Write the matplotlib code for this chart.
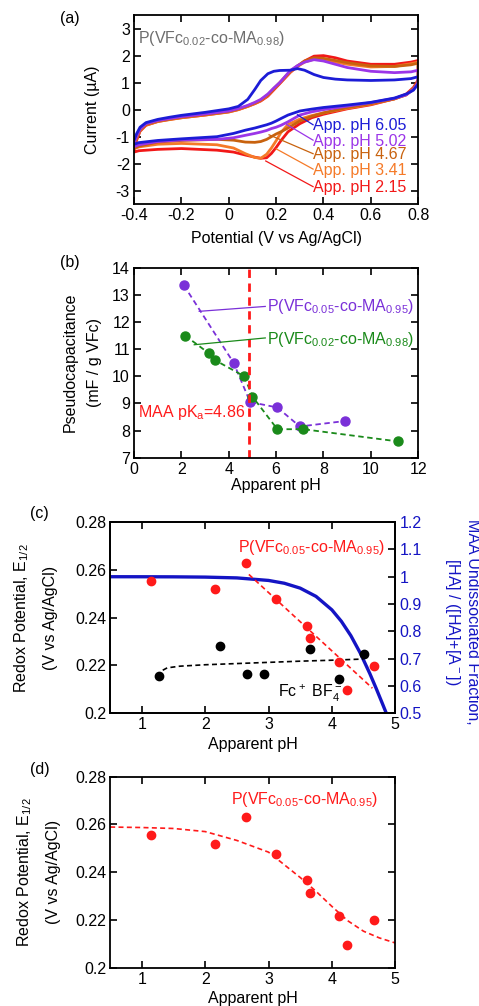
import matplotlib
matplotlib.use("Agg")
import matplotlib.pyplot as plt
import numpy as np

plt.rcParams["font.family"] = ["Liberation Sans", "DejaVu Sans"]
plt.rcParams["mathtext.fontset"] = "custom"
plt.rcParams["mathtext.rm"] = "Liberation Sans"
plt.rcParams["mathtext.default"] = "regular"
plt.rcParams["axes.unicode_minus"] = False

FS = 11.5

# ---- (a) cyclic voltammograms, P(VFc0.02-co-MA0.98) ----
cv_labels = ["App. pH 6.05", "App. pH 5.02", "App. pH 4.67", "App. pH 3.41", "App. pH 2.15"]
cv_colors = ["#1c1cd6", "#9b35e8", "#c8620e", "#f57a28", "#f21818"]

v_fwd = [-0.4, -0.39, -0.375, -0.35, -0.3, -0.25, -0.2, -0.1, 0.0, 0.04, 0.08, 0.11, 0.135,
         0.165, 0.19, 0.215, 0.26, 0.29, 0.32, 0.36, 0.4, 0.45, 0.5, 0.6, 0.7, 0.77, 0.8]
v_rev = [0.8, 0.78, 0.75, 0.7, 0.6, 0.5, 0.4, 0.35, 0.3, 0.25, 0.22, 0.2, 0.18, 0.16, 0.135,
         0.11, 0.07, 0.02, -0.05, -0.2, -0.3, -0.38, -0.4]

i_fwd_605 = [-1.12, -0.9, -0.65, -0.48, -0.36, -0.28, -0.21, -0.1, 0.03, 0.12, 0.38, 0.75, 1.08,
             1.33, 1.42, 1.45, 1.46, 1.52, 1.46, 1.3, 1.19, 1.13, 1.1, 1.08, 1.1, 1.15, 1.22]
i_fwd_502 = [-1.25, -1.0, -0.72, -0.52, -0.4, -0.33, -0.26, -0.16, -0.05, 0.04, 0.16, 0.27, 0.38,
             0.58, 0.8, 1.0, 1.45, 1.63, 1.76, 1.85, 1.8, 1.68, 1.56, 1.42, 1.37, 1.4, 1.46]
i_fwd_467 = [-1.3, -1.05, -0.75, -0.55, -0.42, -0.35, -0.28, -0.18, -0.07, 0.02, 0.14, 0.25, 0.36,
             0.55, 0.78, 1.0, 1.42, 1.62, 1.8, 1.92, 1.9, 1.82, 1.74, 1.62, 1.6, 1.66, 1.72]
i_fwd_341 = [-1.35, -1.08, -0.78, -0.57, -0.44, -0.37, -0.3, -0.2, -0.09, 0.0, 0.12, 0.23, 0.34,
             0.53, 0.76, 0.98, 1.4, 1.6, 1.76, 1.87, 1.84, 1.76, 1.68, 1.58, 1.6, 1.7, 1.76]
i_fwd_215 = [-1.5, -1.15, -0.8, -0.58, -0.44, -0.36, -0.3, -0.2, -0.08, 0.0, 0.12, 0.22, 0.32,
             0.5, 0.73, 0.96, 1.38, 1.6, 1.8, 1.98, 2.0, 1.92, 1.8, 1.68, 1.68, 1.76, 1.82]

i_rev_605 = [0.95, 0.72, 0.58, 0.43, 0.27, 0.17, 0.08, 0.02, -0.05, -0.2, -0.33, -0.42, -0.5,
             -0.56, -0.62, -0.68, -0.76, -0.88, -1.0, -1.08, -1.14, -1.22, -1.28]
i_rev_502 = [1.0, 0.75, 0.55, 0.42, 0.26, 0.13, 0.0, -0.08, -0.2, -0.45, -0.58, -0.65, -0.7,
             -0.77, -0.83, -0.88, -0.95, -1.04, -1.1, -1.12, -1.18, -1.3, -1.37]
i_rev_467 = [1.05, 0.78, 0.55, 0.4, 0.22, 0.08, -0.12, -0.25, -0.42, -0.68, -0.82, -0.9, -1.0,
             -1.1, -1.18, -1.21, -1.2, -1.13, -1.1, -1.14, -1.2, -1.35, -1.42]
i_rev_341 = [1.05, 0.78, 0.55, 0.4, 0.2, 0.05, -0.12, -0.22, -0.35, -0.55, -0.85, -1.15, -1.42,
             -1.65, -1.8, -1.77, -1.63, -1.42, -1.3, -1.25, -1.28, -1.38, -1.45]
i_rev_215 = [1.1, 0.82, 0.58, 0.4, 0.18, 0.03, -0.17, -0.3, -0.52, -0.82, -1.15, -1.4, -1.62,
             -1.78, -1.8, -1.76, -1.68, -1.57, -1.5, -1.44, -1.47, -1.52, -1.57]

i_fwd = [i_fwd_605, i_fwd_502, i_fwd_467, i_fwd_341, i_fwd_215]
i_rev = [i_rev_605, i_rev_502, i_rev_467, i_rev_341, i_rev_215]

# label leader lines: (text end) -> (curve point)
lead_start = [(0.356, -0.56), (0.356, -1.13), (0.356, -1.63), (0.356, -2.2), (0.356, -2.85)]
lead_end = [(0.29, -0.19), (0.245, -0.55), (0.17, -0.93), (0.20, -1.45), (0.156, -1.9)]
label_y = [-0.6, -1.17, -1.66, -2.24, -2.88]

# ---- (b) pseudocapacitance vs pH ----
ph_05 = [2.1, 4.2, 4.9, 6.05, 7.0, 8.9]
cap_05 = [13.35, 10.5, 9.05, 8.85, 8.15, 8.35]
ph_02 = [2.15, 3.15, 3.4, 4.65, 5.0, 6.05, 7.15, 11.15]
cap_02 = [11.5, 10.85, 10.6, 10.0, 9.25, 8.05, 8.05, 7.6]
pka = 4.86

# ---- (c)/(d) redox potential vs pH ----
red_ph = [1.14, 2.16, 2.64, 3.12, 3.61, 3.65, 4.11, 4.24, 4.67]
red_e = [0.2554, 0.2519, 0.2630, 0.2477, 0.2367, 0.2313, 0.2216, 0.2097, 0.2199]
fc_ph = [1.27, 2.23, 2.66, 2.93, 3.66, 4.11, 4.50]
fc_e = [0.2156, 0.2281, 0.2166, 0.2166, 0.2268, 0.2145, 0.2250]
fc_fit_ph = [1.33, 1.4, 1.6, 2.0, 2.5, 3.0, 3.5, 4.0, 4.5]
fc_fit_e = [0.2180, 0.2190, 0.2197, 0.2203, 0.2208, 0.2213, 0.2218, 0.2222, 0.2227]
red_line_ph = [2.69, 4.64]
red_line_e = [0.2581, 0.2105]
frac_ph = [0.5, 1.0, 1.5, 2.0, 2.5, 3.0, 3.25, 3.5, 3.75, 4.0, 4.15, 4.3, 4.45, 4.6, 4.7, 4.8, 4.86]
frac_val = [1.0, 0.9999, 0.9996, 0.9986, 0.9957, 0.9864, 0.9761, 0.9582, 0.928, 0.8788, 0.8368,
            0.7842, 0.72, 0.6452, 0.591, 0.5345, 0.5]
fit_ph = [0.5, 1.0, 1.5, 2.0, 2.5, 3.0, 3.5, 3.75, 4.0, 4.25, 4.5, 4.75, 5.0]
fit_e = [0.2589, 0.2587, 0.2583, 0.2570, 0.2533, 0.2484, 0.2378, 0.2320, 0.2257, 0.2197, 0.2153,
         0.2125, 0.2104]


def style(ax, right=True):
    ax.tick_params(direction="in", top=True, right=right, length=5, width=1.2,
                   labelsize=FS, pad=3)
    for s in ax.spines.values():
        s.set_linewidth(1.3)


def fmt(vals):
    return [f"{v:g}" for v in vals]


fig = plt.figure(figsize=(4.79, 10.06), dpi=100)

# (a)
ax = fig.add_axes([0.280, 0.797, 0.593, 0.188])
for k in range(4, -1, -1):
    ax.plot(v_fwd + v_rev, i_fwd[k] + i_rev[k], color=cv_colors[k], lw=2.0)
for k in range(5):
    (x0, y0), (x1, y1) = lead_start[k], lead_end[k]
    ax.plot([x0, x1], [y0, y1], color=cv_colors[k], lw=0.9)
    ax.text(0.357, label_y[k], cv_labels[k], color=cv_colors[k], fontsize=FS,
            ha="left", va="center")
ax.text(-0.385, 2.62, "P(VFc$_{0.02}$-co-MA$_{0.98}$)", color="#6e6e6e", fontsize=FS,
        ha="left", va="center")
ax.set_xlim(-0.4, 0.8)
ax.set_ylim(-3.5, 3.5)
xt = [-0.4, -0.2, 0, 0.2, 0.4, 0.6, 0.8]
ax.set_xticks(xt, fmt(xt))
yt = [-3, -2, -1, 0, 1, 2, 3]
ax.set_yticks(yt, fmt(yt))
ax.set_xlabel("Potential (V vs Ag/AgCl)", fontsize=FS)
ax.xaxis.set_label_coords(0.5, -0.14)
ax.text(-0.148, 0.5, "Current (µA)", transform=ax.transAxes, rotation=90,
        fontsize=FS, ha="center", va="center")
style(ax)
fig.text(0.125, 0.982, "(a)", fontsize=FS, ha="left", va="center")

# (b)
ax = fig.add_axes([0.280, 0.545, 0.593, 0.189])
ax.plot(ph_05, cap_05, ls=(0, (3, 2)), color="#7a30d8", lw=1.3, marker="o", ms=6.5,
        mec="#7a30d8", mfc="#7a30d8")
ax.plot(ph_02, cap_02, ls=(0, (3, 2)), color="#1a8a1a", lw=1.3, marker="o", ms=6.5,
        mec="#1a8a1a", mfc="#1a8a1a")
ax.axvline(pka, color="#ff1a1a", lw=2.0, ls=(0, (3, 2)))
ax.plot([2.75, 5.54], [12.39, 12.57], color="#7a30d8", lw=0.9)
ax.plot([2.54, 5.54], [11.16, 11.41], color="#1a8a1a", lw=0.9)
ax.text(5.6, 12.55, "P(VFc$_{0.05}$-co-MA$_{0.95}$)", color="#7a30d8", fontsize=FS,
        ha="left", va="center")
ax.text(5.6, 11.37, "P(VFc$_{0.02}$-co-MA$_{0.98}$)", color="#1a8a1a", fontsize=FS,
        ha="left", va="center")
ax.text(0.15, 8.65, "MAA pK$_a$=4.86", color="#ff1a1a", fontsize=FS, ha="left", va="center")
ax.set_xlim(0, 12)
ax.set_ylim(7, 14)
ax.set_xticks(range(0, 13, 2))
ax.set_yticks(range(7, 15))
ax.set_xlabel("Apparent pH", fontsize=FS)
ax.xaxis.set_label_coords(0.5, -0.108)
ax.text(-0.225, 0.5, "Pseudocapacitance", transform=ax.transAxes, rotation=90,
        fontsize=FS, ha="center", va="center")
ax.text(-0.14, 0.5, "(mF / g VFc)", transform=ax.transAxes, rotation=90,
        fontsize=FS, ha="center", va="center")
style(ax)
fig.text(0.125, 0.739, "(b)", fontsize=FS, ha="left", va="center")

# (c)
ax = fig.add_axes([0.230, 0.291, 0.595, 0.190])
ax2 = ax.twinx()
ax2.plot(frac_ph, frac_val, color="#1414c4", lw=2.4)
ax2.set_ylim(0.5, 1.2)
rt = [0.5, 0.6, 0.7, 0.8, 0.9, 1.0, 1.1, 1.2]
ax2.set_yticks(rt, fmt(rt))
ax2.tick_params(direction="in", length=5, width=1.2, labelsize=FS, labelcolor="#1414c4",
                pad=3)
ax.plot(red_line_ph, red_line_e, color="#ff1a1a", lw=1.2, ls=(0, (3, 2)))
ax.plot(fc_fit_ph, fc_fit_e, color="black", lw=1.2, ls=(0, (3, 2)))
ax.plot(red_ph, red_e, "o", color="#ff1a1a", ms=6)
ax.plot(fc_ph, fc_e, "o", color="black", ms=6)
ax.text(2.52, 0.2695, "P(VFc$_{0.05}$-co-MA$_{0.95}$)", color="#ff1a1a", fontsize=FS,
        ha="left", va="center")
ax.text(3.15, 0.2084, "Fc$^+$ BF$_4^-$", color="black", fontsize=FS, ha="left", va="center")
ax.set_zorder(ax2.get_zorder() + 1)
ax.patch.set_visible(False)
ax.set_xlim(0.5, 5)
ax.set_ylim(0.2, 0.28)
ax.set_xticks([1, 2, 3, 4, 5])
lt = [0.2, 0.22, 0.24, 0.26, 0.28]
ax.set_yticks(lt, fmt(lt))
ax.set_xlabel("Apparent pH", fontsize=FS)
ax.xaxis.set_label_coords(0.5, -0.125)
ax.text(-0.31, 0.5, "Redox Potential, E$_{1/2}$", transform=ax.transAxes, rotation=90,
        fontsize=FS, ha="center", va="center")
ax.text(-0.21, 0.5, "(V vs Ag/AgCl)", transform=ax.transAxes, rotation=90,
        fontsize=FS, ha="center", va="center")
ax.text(1.27, 0.48, "MAA Undissociated Fraction,", transform=ax.transAxes, rotation=270,
        fontsize=FS, ha="center", va="center", color="#1414c4")
ax.text(1.20, 0.48, "[HA] / ([HA]+[A$^-$])", transform=ax.transAxes, rotation=270,
        fontsize=FS, ha="center", va="center", color="#1414c4")
style(ax, right=False)
for s in ax2.spines.values():
    s.set_linewidth(1.3)
fig.text(0.063, 0.49, "(c)", fontsize=FS, ha="left", va="center")

# (d)
ax = fig.add_axes([0.230, 0.038, 0.595, 0.190])
ax.plot(fit_ph, fit_e, color="#ff1a1a", lw=1.2, ls=(0, (3, 2)))
ax.plot(red_ph, red_e, "o", color="#ff1a1a", ms=6)
ax.text(2.4, 0.2703, "P(VFc$_{0.05}$-co-MA$_{0.95}$)", color="#ff1a1a", fontsize=FS,
        ha="left", va="center")
ax.set_xlim(0.5, 5)
ax.set_ylim(0.2, 0.28)
ax.set_xticks([1, 2, 3, 4, 5])
ax.set_yticks(lt, fmt(lt))
ax.set_xlabel("Apparent pH", fontsize=FS)
ax.xaxis.set_label_coords(0.5, -0.122)
ax.text(-0.30, 0.5, "Redox Potential, E$_{1/2}$", transform=ax.transAxes, rotation=90,
        fontsize=FS, ha="center", va="center")
ax.text(-0.20, 0.5, "(V vs Ag/AgCl)", transform=ax.transAxes, rotation=90,
        fontsize=FS, ha="center", va="center")
style(ax)
fig.text(0.063, 0.2346, "(d)", fontsize=FS, ha="left", va="center")

fig.savefig("out.png", dpi=100)
